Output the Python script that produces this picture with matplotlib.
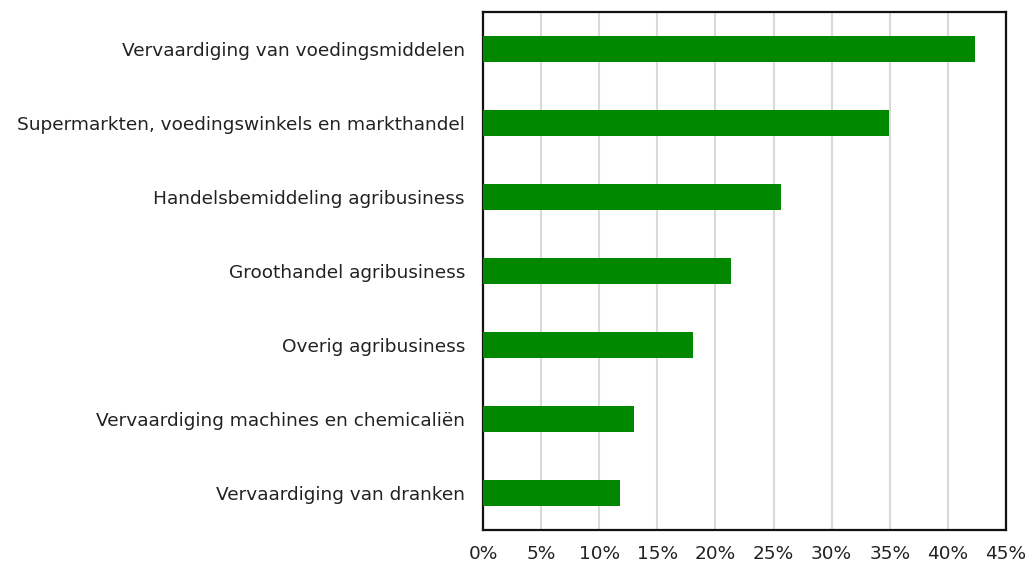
import matplotlib
matplotlib.use("Agg")
import matplotlib.pyplot as plt
from matplotlib.ticker import FuncFormatter

# Categories (top to bottom) and shares in percent
categories = [
    "Vervaardiging van voedingsmiddelen",
    "Supermarkten, voedingswinkels en markthandel",
    "Handelsbemiddeling agribusiness",
    "Groothandel agribusiness",
    "Overig agribusiness",
    "Vervaardiging machines en chemicaliën",
    "Vervaardiging van dranken",
]
shares = [42.3, 34.9, 25.6, 21.3, 18.1, 13.0, 11.8]
x_ticks = [0, 5, 10, 15, 20, 25, 30, 35, 40, 45]

plt.rcParams["font.family"] = ["DejaVu Sans"]

fig = plt.figure(figsize=(10.29, 5.64), dpi=100)
ax = fig.add_axes([483 / 1029, 1 - 530 / 564, (1006 - 483) / 1029, (530 - 12) / 564])

ypos = list(range(len(categories)))
ax.barh(ypos, shares, height=0.36, color="#008800", zorder=3)

ax.set_xlim(0, 45)
ax.set_ylim(len(categories) - 0.5, -0.5)
ax.set_yticks(ypos)
ax.set_yticklabels(categories, fontsize=13.3, color="#222222")
ax.set_xticks(x_ticks)
ax.xaxis.set_major_formatter(FuncFormatter(lambda v, p: f"{v:.0f}%"))
ax.tick_params(axis="x", length=0, pad=11, labelsize=13.3, labelcolor="#222222")
ax.tick_params(axis="y", length=0, pad=13)

ax.grid(axis="x", color="#d9d9d9", linewidth=1.5, zorder=0)
ax.set_axisbelow(True)
for s in ax.spines.values():
    s.set_linewidth(1.6)
    s.set_color("#111111")

fig.savefig("out.png", dpi=100)
